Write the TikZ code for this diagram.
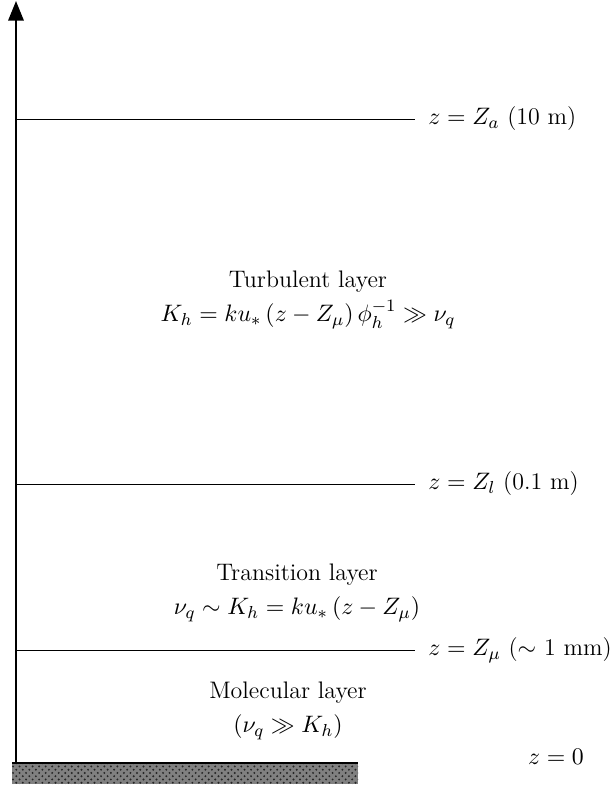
\documentclass[tikz,border=0pt]{standalone}
\usetikzlibrary{arrows.meta, patterns}

\begin{document}
\begin{tikzpicture}[
  x=0.46pt, y=-0.46pt,
  font=\fontsize{11pt}{15.5pt}\selectfont,
  level/.style={line width=0.45pt},
  lab/.style={anchor=west, inner xsep=6pt},
  layer/.style={align=center}
]
  \useasboundingbox (0,0) rectangle (612,786);
  % ground
  \fill[black!50] (12,763) rectangle (358,784);
  \fill[pattern=crosshatch dots, pattern color=black!85] (12,763) rectangle (358,784);
  \coordinate (o) at (16,763);
  \coordinate (g) at (358,763);
  \draw[line width=1.1pt] (12,763) -- (g);
  % height axis
  \draw[line width=1.1pt, -{Triangle[length=9pt, width=7pt]}] (o) -- (16,1);
  % levels
  \node[lab] (za) at (415,119) {$z = Z_a$ (10 m)};
  \node[lab] (zl) at (415,484) {$z = Z_l$ (0.1 m)};
  \node[lab] (zm) at (415,650) {$z = Z_\mu$ ($\sim$ 1 mm)};
  \node (z0) at (556,757) {$z = 0$};
  \foreach \n/\y in {za/119, zl/484, zm/650}
    \draw[level] (16,\y) -- (\n.west);
  % layers
  \node[layer] (turb) at (308,300) {Turbulent layer\\$K_h = ku_*\,(z - Z_\mu)\,\phi_h^{-1} \gg \nu_q$};
  \node[layer] (trans) at (297,593) {Transition layer\\$\nu_q \sim K_h = ku_*\,(z - Z_\mu)$};
  \node[layer] (mol) at (288,711) {Molecular layer\\$(\nu_q \gg K_h)$};
\end{tikzpicture}
\end{document}
